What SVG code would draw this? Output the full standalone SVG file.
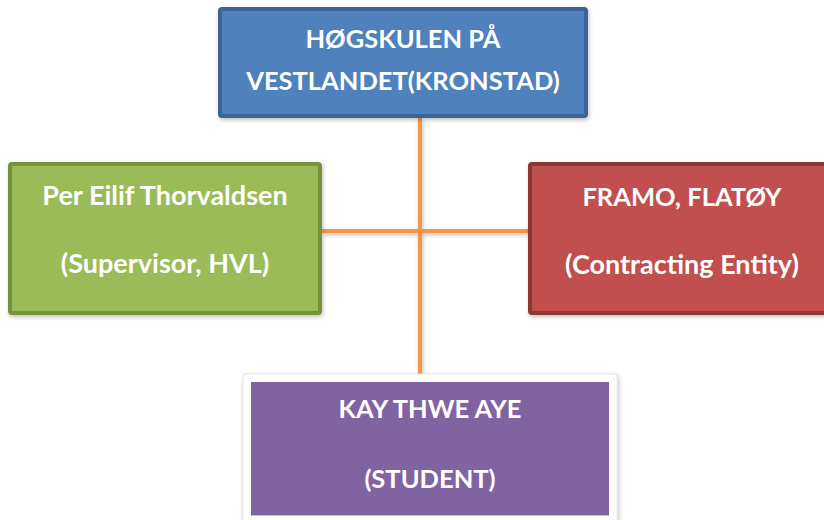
<svg xmlns="http://www.w3.org/2000/svg" width="824" height="520" viewBox="0 0 824 520">
<style>
.t{font-family:Lato,"Open Sans","Liberation Sans",sans-serif;font-weight:bold;font-size:25.5px;fill:#ffffff;text-anchor:middle}
.l{font-size:27px}
.ln{stroke:#f79646;stroke-width:4;fill:none}
</style>
<defs>
<filter id="sh" x="-10%" y="-10%" width="120%" height="130%">
<feDropShadow dx="1" dy="2" stdDeviation="2" flood-color="#000" flood-opacity="0.25"/>
</filter>
</defs>
<rect width="824" height="520" fill="#ffffff"/>
<g id="connectors" filter="url(#sh)">
<line class="ln" x1="420" y1="118" x2="420" y2="376"/>
<line class="ln" x1="322" y1="231" x2="528" y2="231"/>
</g>
<g id="hvl">
<rect x="220" y="9" width="366" height="107" rx="2" fill="#4f81bd" stroke="#3c6496" stroke-width="4" filter="url(#sh)"/>
<text class="t" x="403" y="48">HØGSKULEN PÅ</text>
<text class="t" x="403" y="90">VESTLANDET(KRONSTAD)</text>
</g>
<g id="supervisor">
<rect x="10" y="164" width="310" height="149" rx="2" fill="#9bbb59" stroke="#76923c" stroke-width="4" filter="url(#sh)"/>
<text class="t l" x="165" y="205">Per Eilif Thorvaldsen</text>
<text class="t l" x="165" y="273">(Supervisor, HVL)</text>
</g>
<g id="framo">
<rect x="530" y="164" width="306" height="149" rx="2" fill="#c0504d" stroke="#8c3836" stroke-width="4" filter="url(#sh)"/>
<text class="t" x="682" y="206">FRAMO, FLATØY</text>
<text class="t l" x="682" y="274">(Contracting Entity)</text>
</g>
<g id="student">
<rect x="243" y="374" width="374" height="160" rx="3" fill="#ffffff" stroke="#e6e6e6" stroke-width="1" filter="url(#sh)"/>
<rect x="251" y="382" width="358" height="133" fill="#8064a2"/>
<line x1="251" y1="515.5" x2="609" y2="515.5" stroke="#c9b8dc" stroke-width="1"/>
<text class="t" x="430" y="418">KAY THWE AYE</text>
<text class="t" x="430" y="488">(STUDENT)</text>
</g>
</svg>
